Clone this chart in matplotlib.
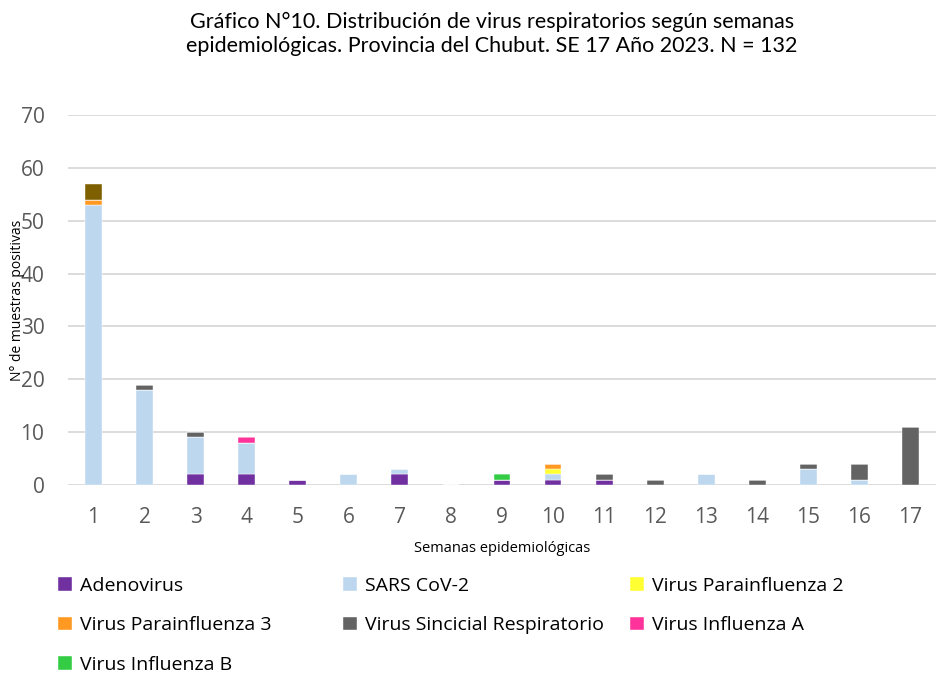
import matplotlib
matplotlib.use("Agg")
import matplotlib.pyplot as plt
import numpy as np

semanas = [str(i) for i in range(1, 18)]
adenovirus = [0, 0, 2, 2, 1, 0, 2, 0, 1, 1, 1, 0, 0, 0, 0, 0, 0]
sars_cov2 = [53, 18, 7, 6, 0, 2, 1, 0, 0, 1, 0, 0, 2, 0, 3, 1, 0]
parainf2 = [0, 0, 0, 0, 0, 0, 0, 0, 0, 1, 0, 0, 0, 0, 0, 0, 0]
parainf3 = [1, 0, 0, 0, 0, 0, 0, 0, 0, 1, 0, 0, 0, 0, 0, 0, 0]
vsr = [0, 1, 1, 0, 0, 0, 0, 0, 0, 0, 1, 1, 0, 1, 1, 3, 11]
influenza_a = [0, 0, 0, 1, 0, 0, 0, 0, 0, 0, 0, 0, 0, 0, 0, 0, 0]
influenza_b = [0, 0, 0, 0, 0, 0, 0, 0, 1, 0, 0, 0, 0, 0, 0, 0, 0]
otros = [3, 0, 0, 0, 0, 0, 0, 0, 0, 0, 0, 0, 0, 0, 0, 0, 0]

series = [
    ("Adenovirus", adenovirus, "#7030A0"),
    ("SARS CoV-2", sars_cov2, "#BDD7EE"),
    ("Virus Parainfluenza 2", parainf2, "#FFFF33"),
    ("Virus Parainfluenza 3", parainf3, "#FF9922"),
    ("Virus Sincicial Respiratorio", vsr, "#636363"),
    ("Virus Influenza A", influenza_a, "#FF3399"),
    ("Virus Influenza B", influenza_b, "#33CC44"),
    ("_otros", otros, "#7F6000"),
]

plt.rcParams['font.family'] = ['Open Sans', 'DejaVu Sans']

fig = plt.figure(figsize=(9.36, 6.79), dpi=100)
ax = fig.add_axes([68/936, 1-485/679, 1-68/936, (485-115)/679])

x = np.arange(1, 18)
bottom = np.zeros(len(x))
handles = {}
for name, vals, col in series:
    v = np.array(vals, dtype=float)
    b = ax.bar(x, v, bottom=bottom, width=0.33, color=col, edgecolor='white', linewidth=0.3,
               label=name if not name.startswith('_') else '_nolegend_', zorder=3)
    handles[name] = b
    bottom += v

ax.set_xlim(0.5, 17.5)
ax.set_ylim(0, 70)
ax.set_yticks(range(0, 71, 10))
ax.set_xticks(x)
ax.set_xticklabels(semanas)
ax.yaxis.grid(True, color='#D9D9D9', linewidth=1.3, zorder=0)
for s in ax.spines.values():
    s.set_visible(False)
ax.tick_params(axis='both', length=0, labelsize=15, labelcolor='#595959')
ax.tick_params(axis='y', pad=17)
ax.tick_params(axis='x', pad=16)

fig.text(18/936, 1-300/679, "N° de muestras positivas", rotation=90, ha='center', va='center',
         fontsize=10, color='black')
fig.text(502/936, 1-548/679, "Semanas epidemiológicas", ha='center', va='center',
         fontsize=10.5, color='black')
fig.text(492/936, 1-34/679,
         "Gráfico N°10. Distribución de virus respiratorios según semanas\nepidemiológicas. Provincia del Chubut. SE 17 Año 2023. N = 132",
         ha='center', va='center', fontsize=15.5, linespacing=1.25, family=['Lato', 'DejaVu Sans'])

columns = [
    (58, ["Adenovirus", "Virus Parainfluenza 3", "Virus Influenza B"]),
    (343, ["SARS CoV-2", "Virus Sincicial Respiratorio"]),
    (630, ["Virus Parainfluenza 2", "Virus Influenza A"]),
]
for xpos, names in columns:
    leg = fig.legend([handles[n] for n in names], names, loc='upper left',
                     bbox_to_anchor=(xpos/936, 1-577/679), frameon=False, fontsize=14,
                     handlelength=0.7, handleheight=0.7, handletextpad=0.45,
                     labelspacing=1.1, borderaxespad=0, borderpad=0)

fig.savefig("out.png", dpi=100)
